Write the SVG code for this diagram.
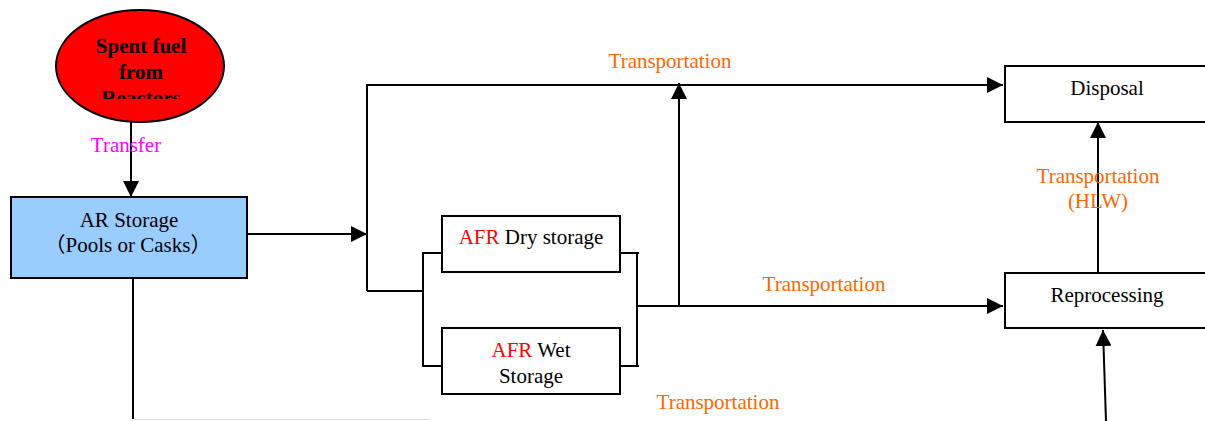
<svg xmlns="http://www.w3.org/2000/svg" width="1205" height="421" viewBox="0 0 1205 421">
<style>
text{font-family:"Liberation Serif","Times New Roman","Noto Sans CJK SC",serif;font-size:21px;text-anchor:middle}
.box{fill:#fff;stroke:#000;stroke-width:2}
.ln{fill:none;stroke:#000;stroke-width:2}
.or{fill:#FF6600}
.rd{fill:#FF0000}
</style>
<defs>
<marker id="ah" markerWidth="16" markerHeight="16" viewBox="0 0 16 16" refX="16" refY="8" orient="auto" markerUnits="userSpaceOnUse">
<path d="M0,0 L16,8 L0,16 Z" fill="#000"/>
</marker>
<clipPath id="ellclip"><rect x="40" y="0" width="200" height="99"/></clipPath>
</defs>
<rect width="1205" height="421" fill="#fff"/>
<g id="connectors">
<line class="ln" x1="131" y1="122" x2="131" y2="197" marker-end="url(#ah)"/>
<line class="ln" x1="247" y1="234" x2="367" y2="234" marker-end="url(#ah)"/>
<polyline class="ln" points="367,291 367,85 1003,85" marker-end="url(#ah)"/>
<polyline class="ln" points="367,291 423,291"/>
<polyline class="ln" points="442,253 423,253 423,366 442,366"/>
<polyline class="ln" points="620,253 637,253 637,366 620,366"/>
<line class="ln" x1="637" y1="253" x2="639" y2="253"/>
<line class="ln" x1="637" y1="366" x2="639" y2="366"/>
<line class="ln" x1="638" y1="306" x2="1003" y2="306" marker-end="url(#ah)"/>
<line class="ln" x1="679" y1="306" x2="679" y2="83" marker-end="url(#ah)"/>
<line class="ln" x1="1098" y1="273" x2="1098" y2="122" marker-end="url(#ah)"/>
<line class="ln" x1="1106" y1="421" x2="1103" y2="330" marker-end="url(#ah)"/>
<line class="ln" x1="133" y1="278" x2="133" y2="419"/>
<line x1="133" y1="419.5" x2="430" y2="419.5" stroke="#e0e0e0" stroke-width="1"/>
</g>
<g id="spent-fuel">
<ellipse cx="140" cy="66" rx="84" ry="56" fill="#FF0000" stroke="#000" stroke-width="2"/>
<g clip-path="url(#ellclip)" font-weight="bold">
<text x="141" y="53" font-weight="bold">Spent fuel</text>
<text x="141" y="79" font-weight="bold">from</text>
<text x="141" y="105" font-weight="bold">Reactors</text>
</g>
</g>
<g id="transfer-label"><text x="126" y="152" fill="#FF00FF">Transfer</text></g>
<g id="ar-storage">
<rect x="11" y="197" width="236" height="81" fill="#99CCFF" stroke="#000" stroke-width="2"/>
<text x="129" y="227">AR Storage</text>
<text x="128" y="252">（Pools or Casks）</text>
</g>
<g id="afr-dry">
<rect class="box" x="442" y="216" width="178" height="56"/>
<text x="531" y="244"><tspan class="rd">AFR</tspan> Dry storage</text>
</g>
<g id="afr-wet">
<rect class="box" x="442" y="328" width="178" height="66"/>
<text x="531" y="357"><tspan class="rd">AFR</tspan> Wet</text>
<text x="531" y="383">Storage</text>
</g>
<g id="disposal">
<rect class="box" x="1005" y="66" width="210" height="56"/>
<text x="1107" y="95">Disposal</text>
</g>
<g id="reprocessing">
<rect class="box" x="1005" y="273" width="210" height="55"/>
<text x="1107" y="302">Reprocessing</text>
</g>
<g id="labels">
<text class="or" x="670" y="68">Transportation</text>
<text class="or" x="824" y="291">Transportation</text>
<text class="or" x="718" y="409">Transportation</text>
<text class="or" x="1098" y="183">Transportation</text>
<text class="or" x="1098" y="208">(HLW)</text>
</g>
</svg>
